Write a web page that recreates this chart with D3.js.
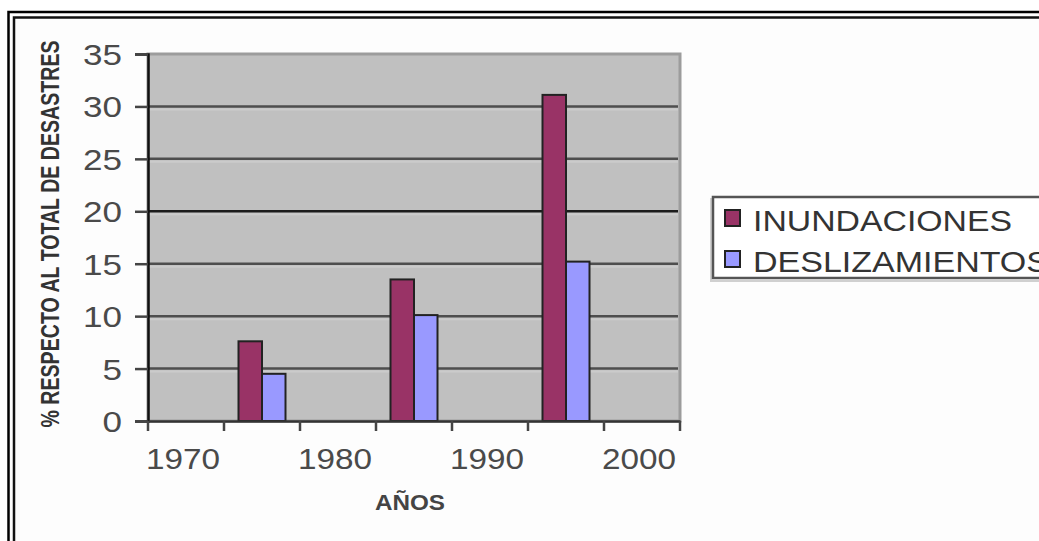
<!DOCTYPE html>
<html>
<head>
<meta charset="utf-8">
<script src="https://cdn.jsdelivr.net/npm/d3@7"></script>
<style>
  html, body { margin: 0; padding: 0; background: #ffffff; }
  svg { display: block; }
  text { font-family: Arial, "Liberation Sans", sans-serif; }
</style>
</head>
<body>
<svg id="chart" width="1039" height="541"></svg>
<script>
// Categories along the x axis (five-year steps) and the labelled years
const years = ["1970", "1975", "1980", "1985", "1990", "1995", "2000"];
const yearLabels = ["1970", "1980", "1990", "2000"];

// % of total disasters per period (null = no bar)
const inundaciones = [null, 7.6, null, 13.5, null, 31.1, null];
const deslizamientos = [null, 4.5, null, 10.1, null, 15.2, null];

const seriesNames = ["INUNDACIONES", "DESLIZAMIENTOS"];
const seriesColors = ["#993366", "#9999ff"];
const yTicks = [0, 5, 10, 15, 20, 25, 30, 35];

const svg = d3.select("#chart");

// Double frame around the whole chart
svg.append("rect").attr("x", 8.5).attr("y", 12).attr("width", 1100).attr("height", 600)
  .attr("fill", "#fdfdfd").attr("stroke", "#000").attr("stroke-width", 2.5);
svg.append("rect").attr("x", 14).attr("y", 17.5).attr("width", 1100).attr("height", 600)
  .attr("fill", "#fdfdfd").attr("stroke", "#111").attr("stroke-width", 2.5);

const plot = { left: 148, right: 680, top: 54, bottom: 421 };

const x = d3.scaleBand().domain(years).range([plot.left, plot.right]).padding(0);
const inner = d3.scaleBand().domain(seriesNames)
  .range([x.bandwidth() / 2 - 23.5, x.bandwidth() / 2 + 23.5]).padding(0);
const y = d3.scaleLinear().domain([0, 35]).range([plot.bottom, plot.top]);

// Plot background
svg.append("rect")
  .attr("x", plot.left).attr("y", plot.top)
  .attr("width", plot.right - plot.left).attr("height", plot.bottom - plot.top)
  .attr("fill", "#c0c0c0").attr("stroke", "#9c9c9c").attr("stroke-width", 3);

// Horizontal gridlines with a soft light edge underneath
const grid = svg.append("g");
yTicks.filter(v => v > 0 && v < 35).forEach(v => {
  grid.append("line")
    .attr("x1", plot.left).attr("x2", plot.right - 2)
    .attr("y1", y(v) + 3).attr("y2", y(v) + 3)
    .attr("stroke", "#cbcbcb").attr("stroke-width", 2);
  grid.append("line")
    .attr("x1", plot.left).attr("x2", plot.right - 2)
    .attr("y1", y(v)).attr("y2", y(v))
    .attr("stroke", v === 20 ? "#1c1c1c" : "#4e4e4e").attr("stroke-width", 2.5);
});

// Bars
const rows = years.map((yr, i) => ({ year: yr, values: [inundaciones[i], deslizamientos[i]] }));
const groups = svg.append("g").selectAll("g").data(rows).join("g")
  .attr("transform", d => `translate(${x(d.year)},0)`);
groups.selectAll("rect")
  .data(d => d.values.map((v, k) => ({ name: seriesNames[k], value: v, color: seriesColors[k] }))
    .filter(e => e.value !== null))
  .join("rect")
  .attr("x", d => inner(d.name))
  .attr("y", d => y(d.value))
  .attr("width", inner.bandwidth())
  .attr("height", d => y(0) - y(d.value))
  .attr("fill", d => d.color)
  .attr("stroke", "#222")
  .attr("stroke-width", 2);

// Y axis
const yAxis = svg.append("g").attr("transform", `translate(${plot.left},0)`)
  .call(d3.axisLeft(y).tickValues(yTicks).tickSize(13).tickPadding(13).tickFormat(d3.format("d")));
yAxis.select(".domain").attr("stroke", "#111").attr("stroke-width", 2.5);
yAxis.selectAll(".tick line").attr("stroke", "#444").attr("stroke-width", 2.5);
yAxis.selectAll(".tick text")
  .attr("font-size", 29).attr("fill", "#4a4a4a").attr("dy", "0.36em")
  .attr("textLength", d => String(d).length * 19.5)
  .attr("lengthAdjust", "spacingAndGlyphs");

// X axis: labels centred on every other period, ticks on band boundaries
const xAxis = svg.append("g").attr("transform", `translate(0,${plot.bottom})`)
  .call(d3.axisBottom(x).tickValues(yearLabels).tickSize(0).tickPadding(27));
xAxis.select(".domain").attr("stroke", "#333").attr("stroke-width", 2.5);
xAxis.selectAll(".tick text")
  .attr("font-size", 29).attr("fill", "#4a4a4a")
  .attr("textLength", 74).attr("lengthAdjust", "spacingAndGlyphs")
  .attr("transform", "translate(-3,0)");
const boundaries = years.map(d => x(d)).concat([x(years[years.length - 1]) + x.bandwidth()]);
xAxis.selectAll(".bound").data(boundaries).join("line").attr("class", "bound")
  .attr("x1", d => d).attr("x2", d => d).attr("y1", 0).attr("y2", 10)
  .attr("stroke", "#444").attr("stroke-width", 2.5);

// Axis titles
svg.append("text")
  .attr("x", 410).attr("y", 510).attr("text-anchor", "middle")
  .attr("font-size", 22).attr("font-weight", "bold").attr("fill", "#444")
  .attr("textLength", 70).attr("lengthAdjust", "spacingAndGlyphs")
  .text("AÑOS");
// Vertical title: narrow bold lettering, stretched across the glyph height
svg.append("text")
  .attr("transform", "translate(59,234) rotate(-90) scale(1,1.35)")
  .attr("text-anchor", "middle")
  .attr("font-size", 19.6).attr("font-weight", "bold").attr("fill", "#333")
  .text("% RESPECTO AL TOTAL DE DESASTRES");

// Legend
const legend = svg.append("g");
legend.append("rect").attr("x", 711).attr("y", 199).attr("width", 400).attr("height", 82)
  .attr("fill", "none").attr("stroke", "#d0d0d0").attr("stroke-width", 2);
legend.append("rect").attr("x", 713).attr("y", 197).attr("width", 400).attr("height", 81)
  .attr("fill", "#fff").attr("stroke", "#555").attr("stroke-width", 2.5);
const legendLengths = [259, 296];
seriesNames.forEach((name, k) => {
  const top = 210 + k * 41;
  legend.append("rect").attr("x", 725).attr("y", top).attr("width", 15).attr("height", 16)
    .attr("fill", seriesColors[k]).attr("stroke", "#222").attr("stroke-width", 2);
  legend.append("text").attr("x", 753).attr("y", top + 21)
    .attr("font-size", 30).attr("fill", "#333")
    .attr("textLength", legendLengths[k]).attr("lengthAdjust", "spacingAndGlyphs")
    .text(name);
});
</script>
</body>
</html>
